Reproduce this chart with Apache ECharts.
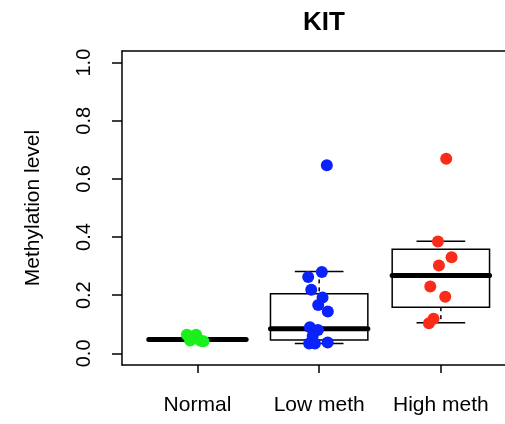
<!DOCTYPE html>
<html>
<head>
<meta charset="utf-8">
<script src="https://cdn.jsdelivr.net/npm/echarts@6/dist/echarts.min.js"></script>
<style>
  html, body { margin: 0; padding: 0; background: #fff; }
  #chart { width: 505px; height: 424px; }
</style>
</head>
<body>
<div id="chart"></div>
<script>
// Groups along the x axis (positions 1, 2, 3)
const categories = ['Normal', 'Low meth', 'High meth'];
const yTicks = [0, 0.2, 0.4, 0.6, 0.8, 1.0];

// Box statistics per group: [lower whisker, Q1, median, Q3, upper whisker]
const boxStats = [
  [0.045, 0.047, 0.048, 0.049, 0.050],
  [0.034, 0.046, 0.085, 0.205, 0.282],
  [0.105, 0.159, 0.268, 0.358, 0.386]
];

// Individual samples as [jittered x, methylation level]
const normalPoints = [
  [0.913, 0.064], [0.989, 0.064], [0.940, 0.044], [1.049, 0.042], [1.025, 0.043]
];
const lowPoints = [
  [2.063, 0.647], [2.022, 0.280], [1.910, 0.263], [1.935, 0.219], [2.028, 0.192],
  [1.992, 0.166], [2.071, 0.144], [1.924, 0.090], [1.990, 0.080], [1.947, 0.060],
  [1.918, 0.034], [1.965, 0.034], [2.070, 0.037]
];
const highPoints = [
  [3.044, 0.669], [2.976, 0.385], [3.088, 0.331], [2.984, 0.302], [2.913, 0.230],
  [3.036, 0.195], [2.940, 0.119], [2.902, 0.104]
];

const FONT = '"Liberation Sans", Arial, sans-serif';
const chart = echarts.init(document.getElementById('chart'), null, { renderer: 'canvas' });

function renderBox(params, api) {
  const x = api.value(0);
  const lo = api.value(1), q1 = api.value(2), med = api.value(3), q3 = api.value(4), hi = api.value(5);
  const halfBox = 0.4, halfCap = 0.2;
  const pL = api.coord([x - halfBox, q3]);
  const pR = api.coord([x + halfBox, q1]);
  const cL = api.coord([x - halfCap, lo])[0];
  const cR = api.coord([x + halfCap, lo])[0];
  const cx = api.coord([x, 0])[0];
  const yLo = api.coord([x, lo])[1], yHi = api.coord([x, hi])[1];
  const yQ1 = pR[1], yQ3 = pL[1], yMed = api.coord([x, med])[1];
  const thin = { stroke: '#000', lineWidth: 1.5, fill: null };
  return {
    type: 'group',
    children: [
      { type: 'line', shape: { x1: cx, y1: yHi, x2: cx, y2: yQ3 }, style: Object.assign({ lineDash: [4, 4] }, thin) },
      { type: 'line', shape: { x1: cx, y1: yQ1, x2: cx, y2: yLo }, style: Object.assign({ lineDash: [4, 4] }, thin) },
      { type: 'line', shape: { x1: cL, y1: yHi, x2: cR, y2: yHi }, style: thin },
      { type: 'line', shape: { x1: cL, y1: yLo, x2: cR, y2: yLo }, style: thin },
      { type: 'rect', shape: { x: pL[0], y: yQ3, width: pR[0] - pL[0], height: yQ1 - yQ3 }, style: { stroke: '#000', lineWidth: 1.5, fill: '#fff' } },
      { type: 'line', shape: { x1: pL[0], y1: yMed, x2: pR[0], y2: yMed }, style: { stroke: '#000', lineWidth: 5, lineCap: 'round' } }
    ]
  };
}

const pointSeries = (data, color) => ({
  type: 'scatter',
  data: data,
  symbol: 'circle',
  symbolSize: 12,
  itemStyle: { color: color, opacity: 1 },
  z: 5,
  silent: true
});

const frameLine = { show: true, onZero: false, lineStyle: { color: '#000', width: 1.5 } };

chart.setOption({
  animation: false,
  backgroundColor: '#fff',
  title: {
    text: 'KIT',
    left: 319,
    top: 5,
    textAlign: 'center',
    textStyle: { fontFamily: FONT, fontSize: 26, fontWeight: 'bold', color: '#000' }
  },
  // The plot frame continues past the right edge of the figure
  grid: { left: 122, top: 51, right: 0, height: 314, show: false },
  xAxis: [
    {
      type: 'value',
      position: 'bottom',
      min: 0.38, max: 3.527,
      splitLine: { show: false },
      axisLine: frameLine,
      axisTick: { show: true, customValues: [1, 2, 3], length: 8, lineStyle: { color: '#000', width: 1.5 } },
      axisLabel: {
        customValues: [1, 2, 3],
        formatter: v => categories[Math.round(v) - 1],
        fontFamily: FONT, fontSize: 21, color: '#000', margin: 30
      }
    },
    {
      type: 'value',
      position: 'top',
      min: 0.38, max: 3.527,
      splitLine: { show: false },
      axisLine: frameLine,
      axisTick: { show: false },
      axisLabel: { show: false }
    }
  ],
  yAxis: {
    type: 'value',
    min: -0.04, max: 1.04,
    splitLine: { show: false },
    axisLine: frameLine,
    axisTick: { show: true, customValues: yTicks, length: 10, lineStyle: { color: '#000', width: 1.5 } },
    axisLabel: {
      customValues: yTicks,
      formatter: v => v.toFixed(1),
      rotate: 90,
      fontFamily: FONT, fontSize: 20, color: '#000', margin: 28
    },
    name: 'Methylation level',
    nameLocation: 'middle',
    nameRotate: 90,
    nameGap: 78,
    nameTextStyle: { fontFamily: FONT, fontSize: 21, color: '#000' }
  },
  series: [
    {
      type: 'custom',
      renderItem: renderBox,
      data: boxStats.map((s, i) => [i + 1].concat(s)),
      encode: { x: 0, y: [1, 2, 3, 4, 5] },
      z: 2,
      silent: true
    },
    pointSeries(normalPoints, '#19f01c'),
    pointSeries(lowPoints, '#0a22fb'),
    pointSeries(highPoints, '#fa2b18')
  ]
});
</script>
</body>
</html>
